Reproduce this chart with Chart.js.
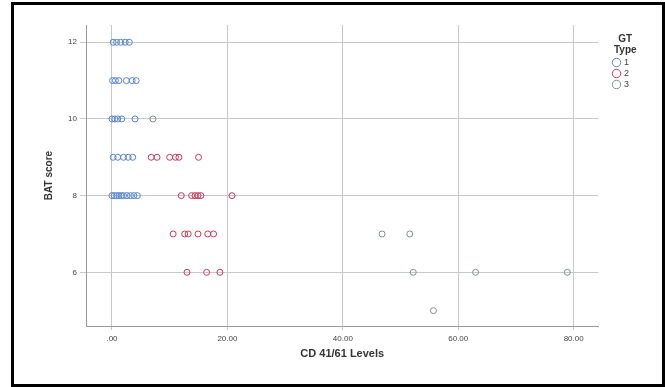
<!DOCTYPE html>
<html>
<head>
<meta charset="utf-8">
<script src="https://cdn.jsdelivr.net/npm/chart.js@4.4.1/dist/chart.umd.min.js"></script>
<style>
html,body{margin:0;padding:0;background:#fff;}
#wrap{position:relative;width:665px;height:387px;}
#frame{position:absolute;left:11px;top:2px;width:648px;height:379px;border:3px solid #000;pointer-events:none;}
canvas{display:block;}
</style>
</head>
<body>
<div id="wrap"><canvas id="c" width="665" height="387"></canvas><div id="frame"></div></div>
<script>
// Data
const type1CD  = [0.2,0.8,1.5,2.3,3.0, 0.1,0.6,1.2,2.5,3.5,4.2, 0.0,0.5,1.0,1.7,4.0, 0.2,1.0,2.0,2.8,3.6, 0.0,0.4,0.8,1.2,1.6,2.0,2.6,3.2,3.8,4.4];
const type1BAT = [12,12,12,12,12, 11,11,11,11,11,11, 10,10,10,10,10, 9,9,9,9,9, 8,8,8,8,8,8,8,8,8,8];
const type2CD  = [6.8,7.8,10.0,11.0,11.6,15.0, 12.0,13.8,14.4,14.9,15.4,20.8, 10.6,12.6,13.2,14.9,16.6,17.6, 13.0,16.4,18.7];
const type2BAT = [9,9,9,9,9,9, 8,8,8,8,8,8, 7,7,7,7,7,7, 6,6,6];
const type3CD  = [7.1, 46.8,51.6, 52.2,63.0,78.9, 55.7];
const type3BAT = [10, 7,7, 6,6,6, 5];
const xTicks = [0,20,40,60,80];
const yTicks = [6,8,10,12];
const groupLabels = ['1','2','3'];

const colors = ['#5583cf','#c9385a','#7f8f86'];
function pts(xs, ys){ return xs.map((x,i)=>({x:x, y:ys[i]})); }
const seriesData = [pts(type1CD,type1BAT), pts(type2CD,type2BAT), pts(type3CD,type3BAT)];

const datasets = groupLabels.map((g,i)=>({
  label: g,
  data: seriesData[i],
  pointStyle: 'circle',
  pointRadius: 3,
  pointBorderWidth: 1,
  borderColor: colors[i],
  backgroundColor: 'rgba(0,0,0,0)',
  pointBackgroundColor: 'rgba(255,255,255,0)',
  pointBorderColor: colors[i]
}));

const tickFont = {family:'Liberation Sans', size:8};
new Chart(document.getElementById('c'), {
  type: 'scatter',
  data: {datasets},
  options: {
    responsive: false,
    animation: false,
    layout: {padding:{left:36, top:25, right:26, bottom:26}},
    plugins: {
      tooltip:{enabled:false},
      legend: {
        position: 'right',
        align: 'start',
        title: {display:true, text:['GT','Type'], color:'#333', font:{family:'Liberation Sans', size:10, weight:'bold', lineHeight:1.1}, padding:{top:9, bottom:11}},
        labels: {
          usePointStyle: true,
          pointStyle: 'circle',
          boxWidth: 6,
          boxHeight: 6,
          padding: 2,
          color: '#444',
          font: {family:'Liberation Sans', size:9},
          generateLabels: (chart)=> chart.data.datasets.map((d,i)=>({
            text: d.label, fillStyle:'rgba(0,0,0,0)', strokeStyle: colors[i], lineWidth:1,
            pointStyle:'circle', datasetIndex:i, hidden:false, fontColor:'#444'
          }))
        }
      }
    },
    scales: {
      x: {
        type:'linear', min:-4.5, max:84.3,
        afterBuildTicks: s=>{ s.ticks = xTicks.map(v=>({value:v})); },
        afterFit: s=>{ s.height = 387-26-326; },
        ticks: {font:tickFont, color:'#444', padding:4, maxRotation:0,
          callback: v => v===0 ? '.00' : v.toFixed(2)},
        grid: {color:'#c8c8c8', lineWidth:1, tickLength:4},
        border: {color:'#999', width:1},
        title: {display:true, text:'CD 41/61 Levels', color:'#333', font:{family:'Liberation Sans', size:11, weight:'bold'}, padding:{top:4,bottom:0}}
      },
      y: {
        type:'linear', min:4.6, max:12.45,
        afterBuildTicks: s=>{ s.ticks = yTicks.map(v=>({value:v})); },
        afterFit: s=>{ s.width = 86-36; },
        ticks: {font:tickFont, color:'#444', padding:3},
        grid: {color:'#c8c8c8', lineWidth:1, tickLength:6},
        border: {color:'#999', width:1},
        title: {display:true, text:'BAT score', color:'#333', font:{family:'Liberation Sans', size:10, weight:'bold'}, padding:{top:7,bottom:0}}
      },
      gap: {
        type:'linear', position:'right', display:true,
        afterFit: s=>{ s.width = 13; },
        ticks:{display:false}, grid:{display:false}, border:{display:false}
      }
    }
  }
});
</script>
</body>
</html>
